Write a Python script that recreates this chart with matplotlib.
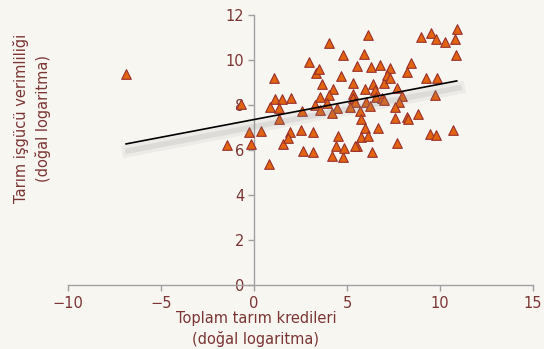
import numpy as np
import matplotlib
matplotlib.use('Agg')
from matplotlib import pyplot as plt
import matplotlib.patheffects as pe

# toplam tarım kredileri (ln) / tarım işgücü verimliliği (ln)
kredi = [-6.88, -0.72, 1.09, 0.86, 1.13, 1.49, 1.99, 1.33, 1.33, 2.56,
         -0.25, 0.36, -1.43, -0.16, 1.94, 2.53, 3.19, 1.58, 1.85, 2.96,
         3.32, 3.51, 4.03, 3.66, 4.27, 4.05, 3.55, 3.28, 3.55, 3.94,
         4.44, 4.17, 4.80, 4.66, 5.30, 5.30, 5.52, 5.93, 6.15, 6.27,
         6.77, 7.31, 5.97, 6.41, 6.51, 7.01, 7.13, 7.31, 5.34, 5.43,
         6.00, 5.70, 6.24, 6.56, 6.90, 7.01, 5.16, 5.74, 5.97, 6.67,
         4.50, 5.75, 6.15, 7.67, 7.94, 7.81, 7.58, 7.58, 8.21, 8.26,
         8.84, 8.21, 8.44, 8.98, 9.23, 9.52, 9.77, 9.82, 9.73, 10.29,
         10.81, 10.90, 10.86, 9.46, 9.77, 10.68, 7.67, 5.52, 0.81, 2.62,
         3.19, 4.17, 4.39, 4.80, 4.86, 5.45, 6.34]
verim = [9.38, 8.04, 9.19, 7.90, 8.28, 8.25, 8.33, 7.85, 7.38, 7.72,
         6.80, 6.83, 6.21, 6.27, 6.81, 6.89, 6.80, 6.27, 6.55, 9.91,
         9.42, 9.59, 10.77, 8.93, 8.69, 8.44, 8.37, 8.01, 7.78, 8.07,
         7.85, 7.66, 10.22, 9.27, 8.96, 8.47, 9.75, 10.27, 11.12, 9.70,
         9.76, 9.63, 8.72, 8.92, 8.67, 8.96, 9.33, 9.19, 8.33, 8.15,
         8.15, 7.73, 7.96, 8.34, 8.30, 8.22, 7.92, 7.36, 6.99, 6.99,
         6.62, 6.59, 6.62, 8.77, 8.40, 8.15, 7.92, 7.44, 7.48, 7.39,
         7.58, 9.45, 9.88, 11.04, 9.21, 11.19, 10.93, 9.21, 8.44, 10.81,
         10.92, 11.36, 10.22, 6.71, 6.67, 6.89, 6.30, 6.18, 5.36, 5.96,
         5.91, 5.75, 6.19, 5.67, 6.10, 6.19, 5.93]

# eğilim çizgisi uç noktaları
trend_x = [-6.88, 10.9]
trend_y = [6.27, 9.07]

xticks = [-10, -5, 0, 5, 10, 15]
yticks = [0, 2, 4, 6, 8, 10, 12]

bg = '#f8f6f1'
txt = '#7b3535'

plt.rcParams['font.family'] = ['DejaVu Sans']

fig = plt.figure(figsize=(5.44, 3.49), dpi=100, facecolor=bg)
ax = fig.add_axes([0.125, 0.1834, 0.8548, 0.7736], facecolor=bg)

ax.scatter(kredi, verim, marker='^', s=48, color='#e3640e',
           edgecolors='#98302e', linewidths=0.8, zorder=3)
ax.plot(trend_x, trend_y, color='black', lw=1.2, zorder=4,
        path_effects=[pe.SimpleLineShadow(offset=(1.5, -5), shadow_color='#909090', alpha=0.10, linewidth=9),
                      pe.SimpleLineShadow(offset=(1.5, -5), shadow_color='#808080', alpha=0.15, linewidth=4),
                      pe.Normal()])

ax.set_xlim(-10, 15)
ax.set_ylim(0, 12)
ax.set_xticks(xticks)
ax.set_yticks(yticks)
ax.spines['left'].set_position(('data', 0))
ax.spines['bottom'].set_position(('data', 0))
ax.spines['top'].set_visible(False)
ax.spines['right'].set_visible(False)
for s in ['left', 'bottom']:
    ax.spines[s].set_color('#a0a0a0')
    ax.spines[s].set_linewidth(1.0)
ax.tick_params(colors='#a0a0a0', labelcolor=txt, labelsize=10.5, length=4, width=1)
ax.tick_params(axis='y', pad=3)
ax.tick_params(axis='x', pad=4)

fig.text(256 / 544, 1 - 329 / 349, 'Toplam tarım kredileri\n(doğal logaritma)',
         ha='center', va='center', color=txt, fontsize=10.5, linespacing=1.4)
fig.text(32 / 544, 1 - 118 / 349, 'Tarım işgücü verimliliği\n(doğal logaritma)',
         ha='center', va='center', rotation=90, color=txt, fontsize=10.5, linespacing=1.4)

fig.savefig('out.png', dpi=100, facecolor=bg)
